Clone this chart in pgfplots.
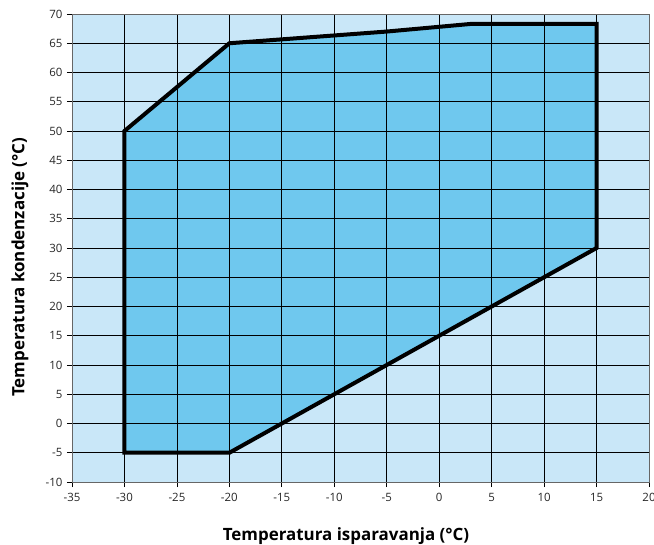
\documentclass[border=0pt]{standalone}
\usepackage{pgfplots}
\pgfplotsset{compat=1.18}
\usepackage{fontspec}
\setmainfont{Open Sans}
\definecolor{bgblue}{HTML}{C9E7F8}
\definecolor{fillblue}{HTML}{6FC8EE}
\begin{document}
\begin{tikzpicture}
\begin{axis}[
  scale only axis,
  width=577bp, height=468bp,
  xmin=-35, xmax=20, ymin=-10, ymax=70,
  xtick={-35,-30,...,20}, ytick={-10,-5,...,70},
  xtick pos=bottom, ytick pos=left,
  tick align=outside, major tick length=5bp,
  every tick/.style={black, line width=0.8bp},
  grid=major,
  major grid style={black, line width=0.8bp},
  axis line style={black!60, line width=0.8bp},
  axis background/.style={fill=bgblue},
  axis on top,
  /pgf/number format/assume math mode=true,
  ticklabel style={font=\fontsize{11.5}{13}\selectfont, text=black!85},
  xticklabel style={yshift=-3bp},
  yticklabel style={xshift=-1bp},
  xlabel={\textbf{Temperatura isparavanja (°C)}},
  ylabel={\textbf{Temperatura kondenzacije (°C)}},
  label style={font=\fontsize{17}{20}\selectfont},
  xlabel style={at={(axis description cs:0.4749,-0.1260)}, anchor=base},
  ylabel style={at={(axis description cs:-0.0901,0.459)}, anchor=center},
]
\addplot[fill=fillblue, draw=none, forget plot] coordinates {
  (-30,-5) (-30,50) (-20,65) (-5,67) (3,68.3) (15,68.3) (15,30) (-20,-5)
} -- cycle;
\end{axis}
\begin{axis}[
  scale only axis,
  width=577bp, height=468bp,
  xmin=-35, xmax=20, ymin=-10, ymax=70,
  hide axis,
]
\addplot[black, line width=4bp, line join=miter] coordinates {
  (-30,-5) (-30,50) (-20,65) (-5,67) (3,68.3) (15,68.3) (15,30) (-20,-5)
} -- cycle;
\end{axis}
\pgfresetboundingbox
\path (current axis.south west) ++(-72bp,-63bp) rectangle ([shift={(5bp,14bp)}]current axis.north east);
\end{tikzpicture}
\end{document}
